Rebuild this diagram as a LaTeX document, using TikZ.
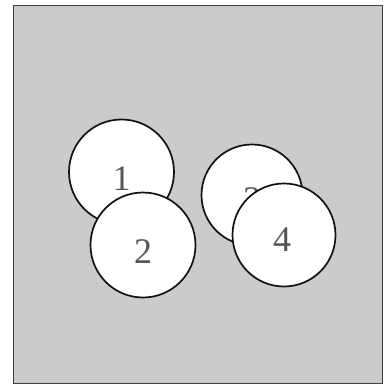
\documentclass[tikz,border=0pt]{standalone}
\usepackage{fontspec}
\setmainfont{Liberation Serif}
\usetikzlibrary{positioning}
\definecolor{grain}{HTML}{CBCBCB}
\definecolor{ink}{HTML}{111111}
\definecolor{digit}{HTML}{555555}

\begin{document}
\begin{tikzpicture}[
  x=1pt, y=-1pt,
  disc/.style={draw=ink, fill=white, line width=1.7pt,
               circle, inner sep=0pt},
  num/.style={font=\fontsize{36}{36}\selectfont, text=digit, inner sep=0pt},
  frame/.style={draw=ink!80, fill=grain, line width=0.8pt},
]
\useasboundingbox (0,0) rectangle (392,388);
\path[frame] (13,5) rectangle (382,383);

\node[disc, minimum size=105pt] (c1) at (121.5,172) {};
\node[num] at ([yshift=-7pt]c1.center) {1};
\node[disc, minimum size=105pt] (c2) at (143,245) {};
\node[num] at ([yshift=-7pt]c2.center) {2};

\node[disc, minimum size=101pt] (c3) at (252,195) {};
\node[num] at ([yshift=-5pt]c3.center) {3};
\node[disc, minimum size=103pt] (c4) at (284,235) {};
\node[num] at ([xshift=-2pt,yshift=-5pt]c4.center) {4};
\end{tikzpicture}
\end{document}
